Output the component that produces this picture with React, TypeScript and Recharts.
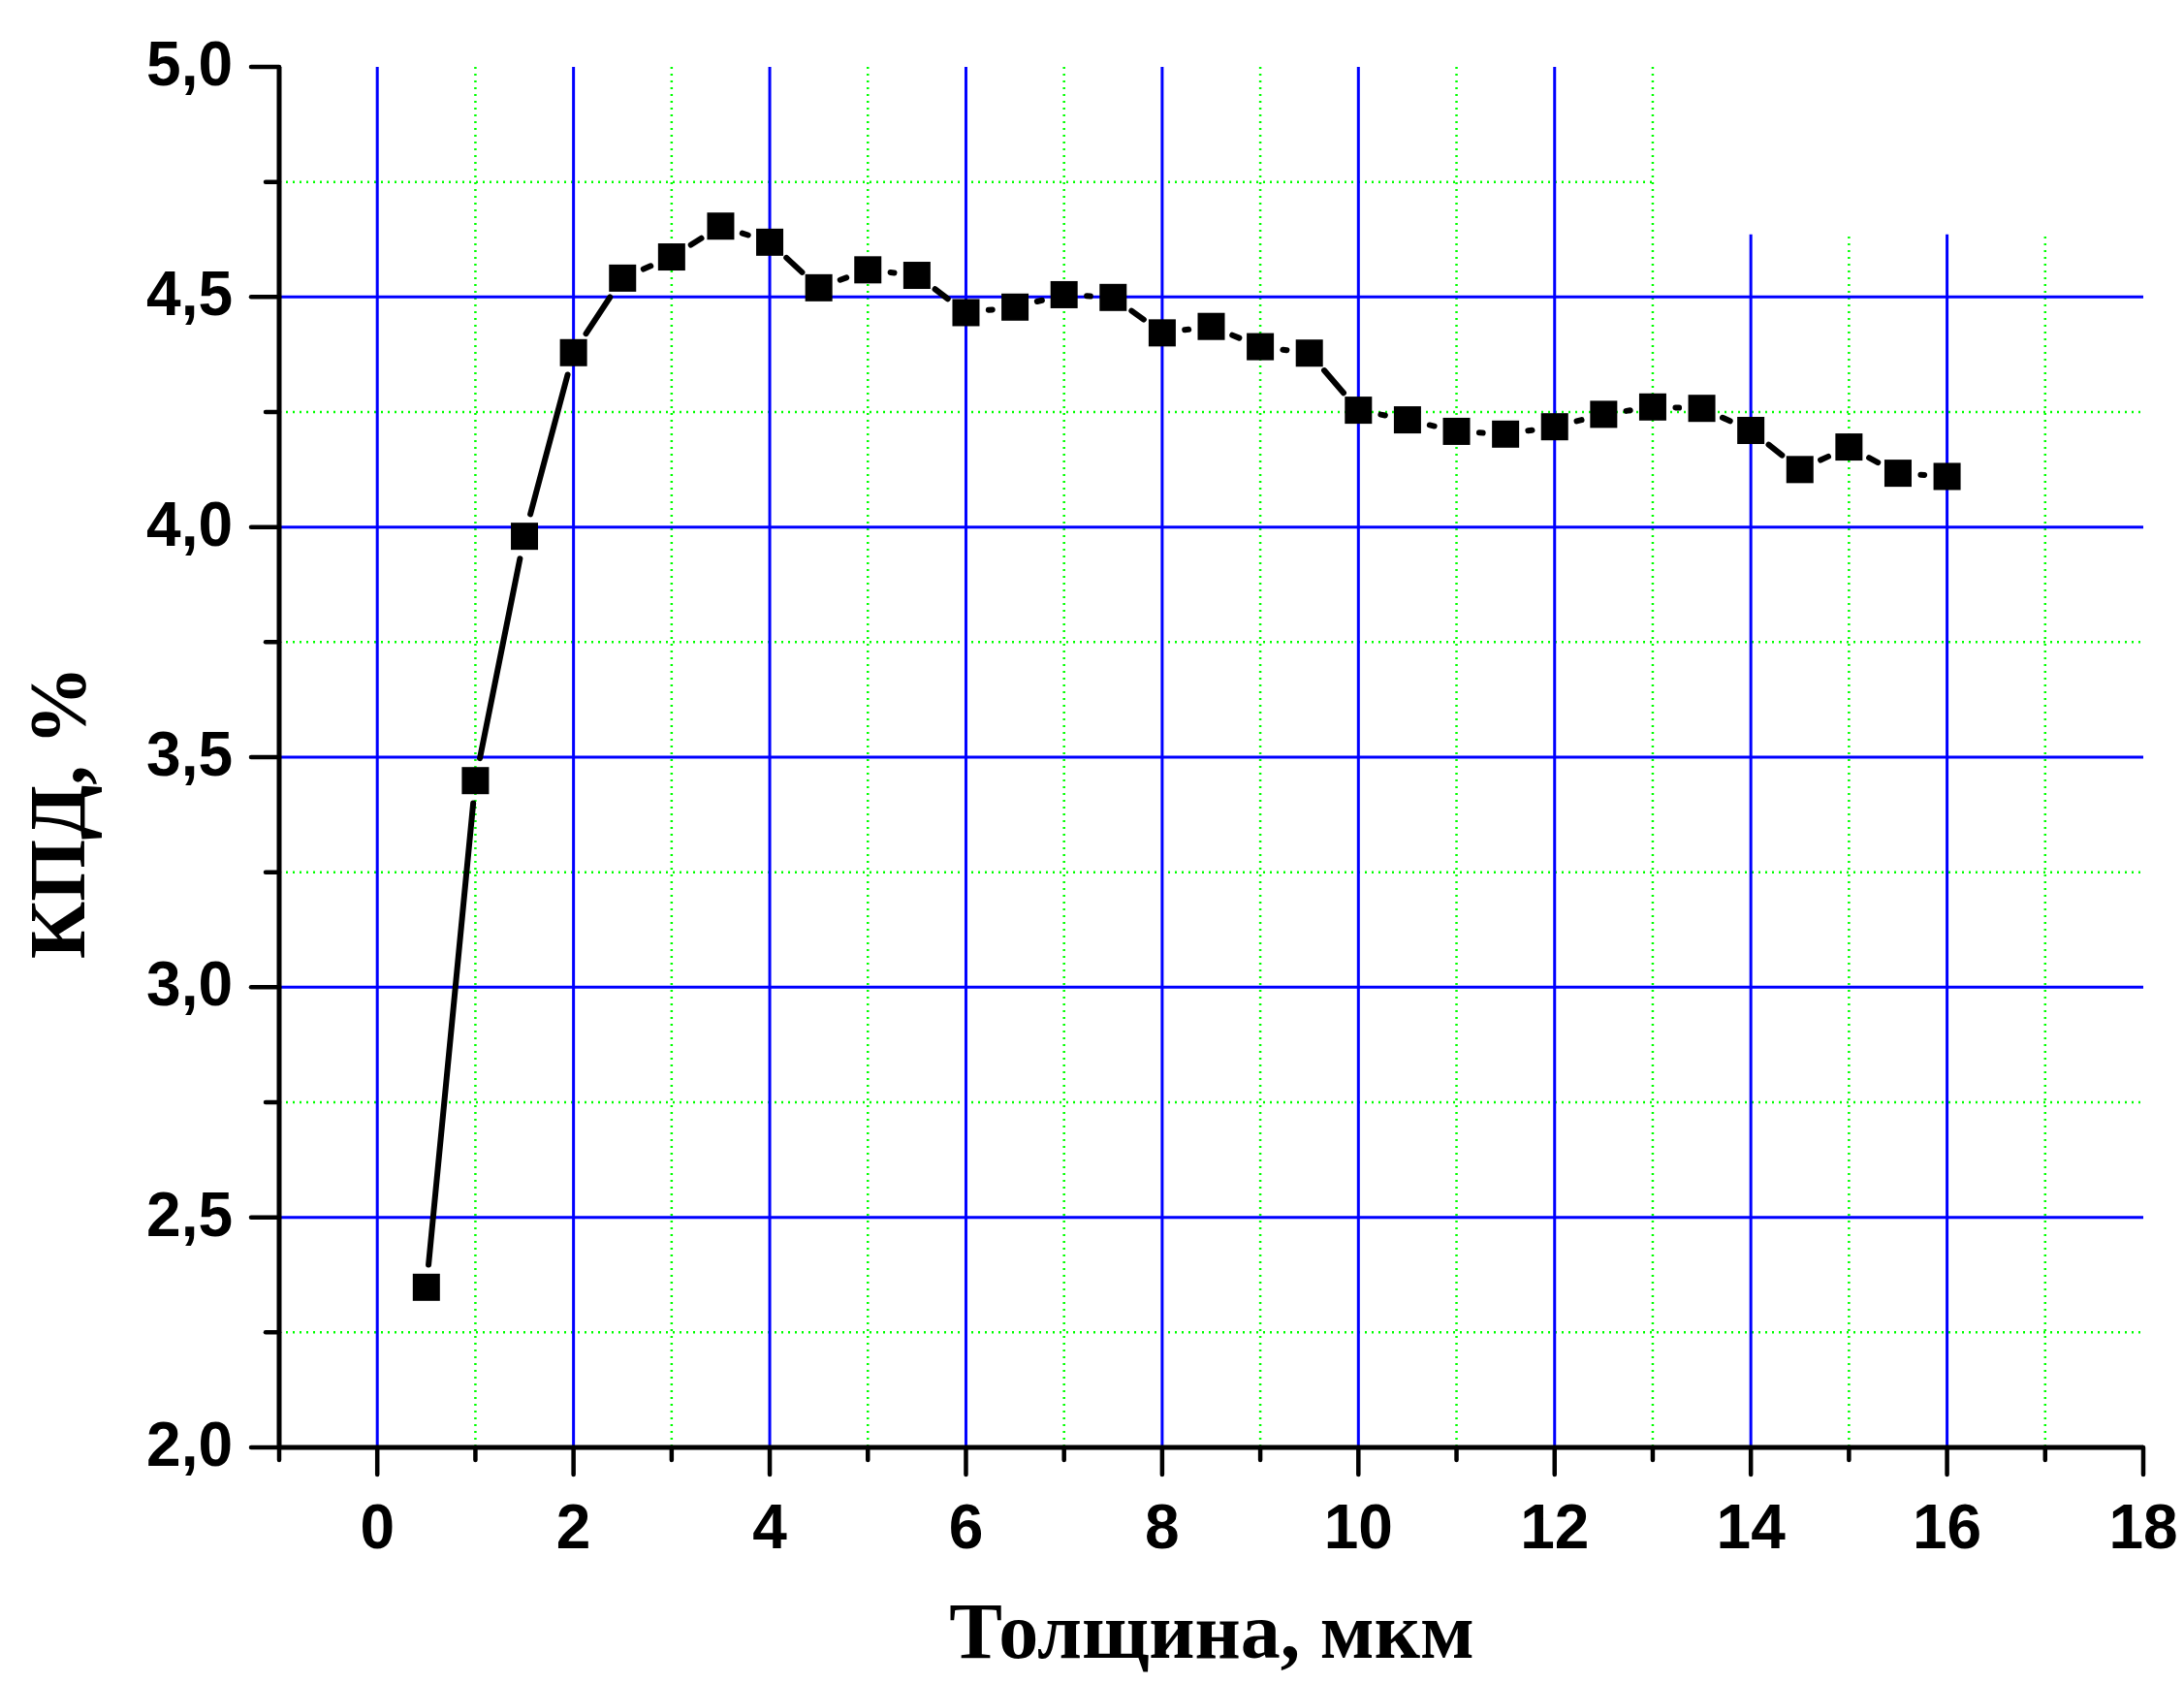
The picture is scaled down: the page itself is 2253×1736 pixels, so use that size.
import React from "react";
import {
  LineChart,
  Line,
  XAxis,
  YAxis,
  CartesianGrid,
  ReferenceArea,
  Label,
} from "recharts";

// толщина, мкм
const thickness = [
  0.5, 1, 1.5, 2, 2.5, 3, 3.5, 4, 4.5, 5, 5.5, 6, 6.5, 7, 7.5, 8, 8.5, 9, 9.5,
  10, 10.5, 11, 11.5, 12, 12.5, 13, 13.5, 14, 14.5, 15, 15.5, 16,
];
// КПД, %
const efficiency = [
  2.348, 3.449, 3.98, 4.379, 4.541, 4.587, 4.654, 4.619, 4.52, 4.559, 4.547,
  4.466, 4.478, 4.505, 4.499, 4.422, 4.436, 4.392, 4.378, 4.254, 4.233, 4.208,
  4.202, 4.218, 4.245, 4.261, 4.258, 4.21, 4.125, 4.174, 4.117, 4.11,
];

const xTicks = [-1, 0, 1, 2, 3, 4, 5, 6, 7, 8, 9, 10, 11, 12, 13, 14, 15, 16, 17, 18];
const xMajorGrid = [0, 2, 4, 6, 8, 10, 12, 14, 16];
const xMinorGrid = [1, 3, 5, 7, 9, 11, 13, 15, 17];
const yTicks = [2, 2.25, 2.5, 2.75, 3, 3.25, 3.5, 3.75, 4, 4.25, 4.5, 4.75, 5];
const yMajorGrid = [2.5, 3, 3.5, 4, 4.5];
const yMinorGrid = [2.25, 2.75, 3.25, 3.75, 4.25, 4.75];

const data = thickness.map((t, i) => ({ t, v: efficiency[i] }));

const SANS = "'Liberation Sans', Arial, sans-serif";
const SERIF = "'Liberation Serif', 'Times New Roman', serif";
const GAP = 23.5; // line gap around symbols
const SYM = 28;

const XTick = (props: any) => {
  const { x, y, payload } = props;
  const v = payload.value;
  const major = v % 2 === 0;
  return (
    <g>
      <line x1={x} y1={y} x2={x} y2={y + (major ? 28 : 13)} stroke="#000" strokeWidth={4.5} strokeLinecap="round" />
      {major && (
        <text x={x} y={y + 104} textAnchor="middle" fontFamily={SANS} fontWeight="bold" fontSize={64} fill="#000">
          {v}
        </text>
      )}
    </g>
  );
};

const YTick = (props: any) => {
  const { x, y, payload } = props;
  const v = payload.value;
  const major = Math.abs(v * 2 - Math.round(v * 2)) < 1e-6;
  return (
    <g>
      <line x1={x} y1={y} x2={x - (major ? 29 : 14)} y2={y} stroke="#000" strokeWidth={4.5} strokeLinecap="round" />
      {major && (
        <text x={240} y={y + 19} textAnchor="end" fontFamily={SANS} fontWeight="bold" fontSize={64} fill="#000">
          {v.toFixed(1).replace(".", ",")}
        </text>
      )}
    </g>
  );
};

const renderPoint = (props: any) => {
  const { cx, cy, index, points } = props;
  const next = points ? points[index + 1] : null;
  let seg = null;
  if (next) {
    const dx = next.x - cx;
    const dy = next.y - cy;
    const len = Math.sqrt(dx * dx + dy * dy);
    const t = GAP / len;
    if (t < 0.5) {
      seg = (
        <line
          x1={cx + dx * t}
          y1={cy + dy * t}
          x2={cx + dx * (1 - t)}
          y2={cy + dy * (1 - t)}
          stroke="#000"
          strokeWidth={6}
          strokeLinecap="round"
        />
      );
    }
  }
  return (
    <g key={`pt-${index}`}>
      {seg}
      <rect x={cx - SYM / 2} y={cy - SYM / 2} width={SYM} height={SYM} fill="#000" />
    </g>
  );
};

export default function App() {
  return (
    <div style={{ position: "absolute", left: 0, top: 0, width: 2253, height: 1736, background: "#fff" }}>
      <LineChart
        width={2253}
        height={1736}
        data={data}
        margin={{ top: 69, right: 42, bottom: 83, left: 88 }}
      >
        <CartesianGrid
          horizontalValues={yMinorGrid}
          verticalValues={xMinorGrid}
          stroke="#00ff00"
          strokeWidth={2.5}
          strokeDasharray="2 5"
        />
        <CartesianGrid
          horizontalValues={yMajorGrid}
          verticalValues={xMajorGrid}
          stroke="#0000ff"
          strokeWidth={3}
        />
        <ReferenceArea x1={13.03} x2={18} y1={4.636} y2={5} fill="#fff" fillOpacity={1} stroke="none" />
        <XAxis
          type="number"
          dataKey="t"
          domain={[-1, 18]}
          ticks={xTicks}
          interval={0}
          height={160}
          tickSize={0}
          tickMargin={0}
          tickLine={false}
          axisLine={{ stroke: "#000", strokeWidth: 5 }}
          tick={<XTick />}
        >
          <Label
            content={() => (
              <text x={1250} y={1710} textAnchor="middle" fontFamily={SERIF} fontWeight="bold" fontSize={82} fill="#000">
                Толщина, мкм
              </text>
            )}
          />
        </XAxis>
        <YAxis
          type="number"
          domain={[2, 5]}
          ticks={yTicks}
          interval={0}
          width={200}
          tickSize={0}
          tickMargin={0}
          tickLine={false}
          axisLine={{ stroke: "#000", strokeWidth: 5 }}
          tick={<YTick />}
        >
          <Label
            content={() => (
              <text
                x={87}
                y={838}
                transform="rotate(-90 87 838)"
                textAnchor="middle"
                fontFamily={SERIF}
                fontWeight="bold"
                fontSize={82}
                fill="#000"
              >
                КПД, %
              </text>
            )}
          />
        </YAxis>
        <Line
          dataKey="v"
          stroke="none"
          dot={renderPoint}
          activeDot={false}
          isAnimationActive={false}
        />
      </LineChart>
    </div>
  );
}
